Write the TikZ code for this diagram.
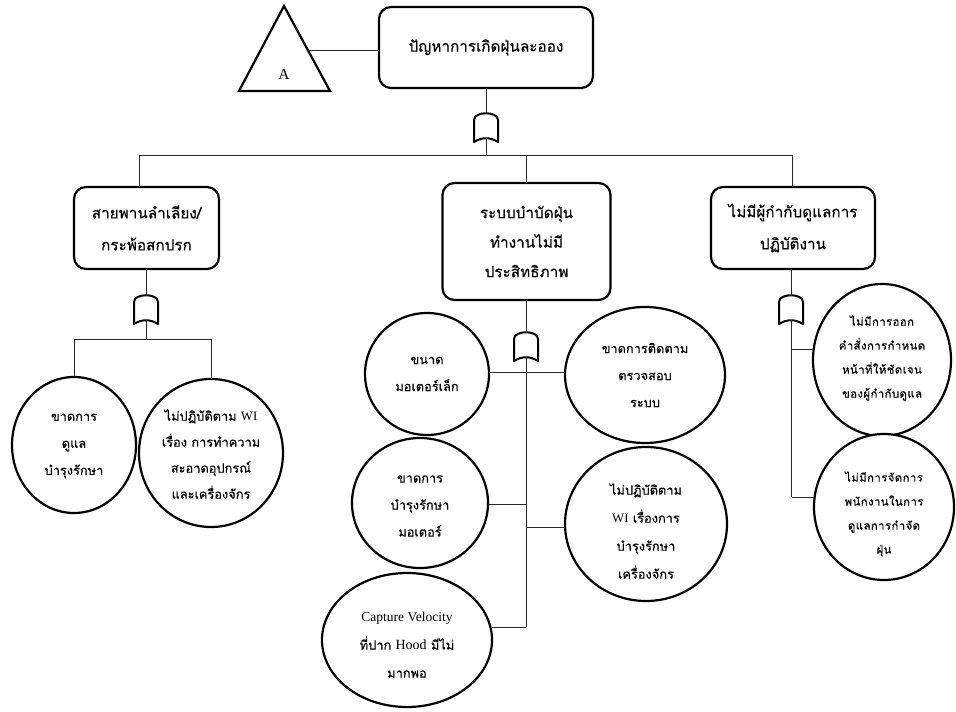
\documentclass[tikz,border=0pt]{standalone}
\usepackage{fontspec}
\setmainfont{Liberation Serif}
\newfontfamily\thaifont[Script=Thai,FakeBold=0.3]{Loma}
\newfontfamily\thaiwide[Script=Thai,FakeBold=0.3,LetterSpace=4]{Loma}
\usetikzlibrary{shapes.geometric}
\newcommand{\lat}[1]{{\rmfamily #1}}
\begin{document}
\begin{tikzpicture}[x=1pt,y=-1pt,
  event/.style={draw, line width=2.2pt, rounded corners=12pt, align=center,
    inner sep=0pt, outer sep=0pt, fill=white,
    font=\thaifont\fontsize{15.3}{32}\selectfont},
  basic/.style={draw, ellipse, line width=2.2pt, inner sep=0pt, outer sep=0pt, fill=white},
  btext/.style={align=center, inner sep=0pt, font=\thaifont\fontsize{12.8}{27}\selectfont},
  stext/.style={align=center, inner sep=0pt, font=\thaiwide\fontsize{11.3}{24}\selectfont},
  link/.style={line width=0.8pt, draw=black!85},
  gate/.pic={
    \draw[line width=2pt, line join=round, fill=white]
      (-12,30) -- (-12,8) .. controls (-12,-1) and (12,-1) .. (12,8)
      -- (12,30) .. controls (4,25) and (-4,25) .. (-12,30) -- cycle;
    \coordinate (-in) at (0,1.5);
    \coordinate (-out) at (0,26);
  }
]
\useasboundingbox[fill=white] (0,0) rectangle (956,712);

% ---------- top event and transfer triangle ----------
\node[event, minimum width=214pt, minimum height=81pt] (top) at (486,47.5)
  {ปัญหาการเกิดฝุ่นละออง};
\coordinate (tA) at (284,6);
\coordinate (tL) at (239,91);
\coordinate (tR) at (330,91);
\draw[line width=2.2pt, line join=miter] (tA) -- (tL) -- (tR) -- cycle;
\node[font=\fontsize{15.5}{17}\selectfont] (lblA) at (284,74) {A};
\coordinate (tSide) at (308,50);
\draw[link] (tSide) -- (tSide -| top.west);

% ---------- first level ----------
\pic (g0) at (486,112) {gate};
\draw[link] (top.south) -- (g0-in);
\coordinate (bus) at (486,155);
\draw[link] (g0-out) -- (bus);

\node[event, minimum width=145pt, minimum height=82pt] (lbox) at (146.5,228)
  {สายพานลำเลียง/\\กระพ้อสกปรก};
\node[event, minimum width=168pt, minimum height=117pt,
      font=\thaifont\fontsize{15.3}{29.5}\selectfont] (cbox) at (526.5,241.5)
  {ระบบบำบัดฝุ่น\\ทำงานไม่มี\\ประสิทธิภาพ};
\node[event, minimum width=164pt, minimum height=82pt] (rbox) at (793,228)
  {ไม่มีผู้กำกับดูแลการ\\ปฏิบัติงาน};

\coordinate (busL) at (139,155);
\coordinate (busR) at (792,155);
\draw[link] (busL |- lbox.north) -- (busL) -- (busR) -- (busR |- rbox.north);
\draw[link] (bus -| cbox.north) -- (cbox.north);

% ---------- left branch ----------
\pic (g1) at (146,294) {gate};
\draw[link] (g1-in |- lbox.south) -- (g1-in);
\coordinate (jL) at (146,339);
\draw[link] (g1-out) -- (jL);

\node[basic, minimum width=124pt, minimum height=136pt] (c1) at (74,445) {};
\node[btext] (c1t) at (74,446) {ขาดการ\\ดูแล\\บำรุงรักษา};
\node[basic, minimum width=144pt, minimum height=148pt] (c2) at (211,453) {};
\node[btext, font=\thaifont\fontsize{12.8}{26}\selectfont] (c2t) at (211,454)
  {ไม่ปฏิบัติตาม \lat{WI}\\เรื่อง การทำความ\\สะอาดอุปกรณ์\\และเครื่องจักร};
\draw[link] (c1.north) -- (c1.north |- jL) -- (c2.north |- jL) -- (c2.north);

% ---------- centre branch ----------
\pic (g2) at (526,331) {gate};
\draw[link] (g2-in |- cbox.south) -- (g2-in);
\coordinate (sC) at (526,627);
\draw[link] (g2-out) -- (sC);

\node[basic, minimum width=124pt, minimum height=122pt] (c3) at (427,374) {};
\node[btext] (c3t) at (427,374) {ขนาด\\มอเตอร์เล็ก};
\node[basic, minimum width=160pt, minimum height=136pt] (c4) at (645,375) {};
\node[btext] (c4t) at (645,375) {ขาดการติดตาม\\ตรวจสอบ\\ระบบ};
\node[basic, minimum width=136pt, minimum height=130pt] (c5) at (420,503) {};
\node[btext] (c5t) at (420,506) {ขาดการ\\บำรุงรักษา\\มอเตอร์};
\node[basic, minimum width=162pt, minimum height=154pt] (c6) at (646,524) {};
\node[btext, font=\thaifont\fontsize{12.8}{28}\selectfont] (c6t) at (646,531)
  {ไม่ปฏิบัติตาม\\\lat{WI} เรื่องการ\\บำรุงรักษา\\เครื่องจักร};
\node[basic, minimum width=170pt, minimum height=134pt] (c7) at (407,640) {};
\node[btext, font=\thaifont\fontsize{12.8}{28}\selectfont] (c7t) at (407,645)
  {{\rmfamily\fontsize{13.5}{15}\selectfont Capture Velocity}\\ที่ปาก {\rmfamily\fontsize{14}{16}\selectfont Hood} มีไม่\\มากพอ};

\coordinate (k3) at (526,372);
\coordinate (k5) at (526,504);
\coordinate (k6) at (526,527);
\draw[link] (k3 -| c3.east) -- (k3 -| c4.west);
\draw[link] (k5 -| c5.east) -- (k5);
\draw[link] (k6) -- (k6 -| c6.west);
\draw[link] (sC -| c7.east) -- (sC);

% ---------- right branch ----------
\pic (g3) at (791,294) {gate};
\draw[link] (g3-in |- rbox.south) -- (g3-in);
\coordinate (sR) at (792,497);
\draw[link] (g3-out) -- (g3-out |- sR);

\node[basic, minimum width=138pt, minimum height=152pt] (c8) at (882,360) {};
\node[stext] (c8t) at (882,358)
  {ไม่มีการออก\\คำสั่งการกำหนด\\หน้าที่ให้ชัดเจน\\ของผู้กำกับดูแล};
\node[basic, minimum width=140pt, minimum height=146pt] (c9) at (884,507) {};
\node[stext] (c9t) at (884,514)
  {ไม่มีการจัดการ\\พนักงานในการ\\ดูแลการกำจัด\\ฝุ่น};

\coordinate (k8) at (792,349);
\draw[link] (k8) -- (k8 -| c8.west);
\draw[link] (sR) -- (sR -| c9.west);
\end{tikzpicture}
\end{document}
